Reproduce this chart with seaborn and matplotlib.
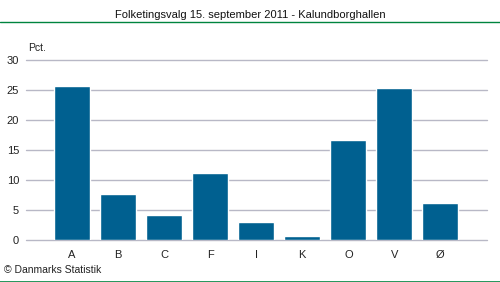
import matplotlib
matplotlib.use("Agg")
import matplotlib.pyplot as plt
import seaborn as sns
import pandas as pd
from matplotlib.lines import Line2D

categories = ["A", "B", "C", "F", "I", "K", "O", "V", "Ø"]
values = [25.7, 7.7, 4.2, 11.1, 3.0, 0.7, 16.7, 25.3, 6.2]
yticks = [0, 5, 10, 15, 20, 25, 30]
title = "Folketingsvalg 15. september 2011 - Kalundborghallen"

sns.set_theme(style="white")
plt.rcParams['font.family'] = ['Liberation Sans', 'DejaVu Sans']

W, H = 500, 282
fig = plt.figure(figsize=(W / 100, H / 100), dpi=100)
ax = fig.add_axes([26 / W, (H - 240) / H, (486.5 - 26) / W, 180 / H])

df = pd.DataFrame({"cat": categories, "val": values})
sns.barplot(data=df, x="cat", y="val", color="#006090", saturation=1,
            width=0.78, ax=ax, zorder=3)

ax.set_xlim(-1, 9)
ax.set_ylim(0, 30)
ax.set_yticks(yticks)
ax.set_yticklabels([str(t) for t in yticks], fontsize=8, color="#222222")
ax.tick_params(axis="x", labelsize=8, colors="#222222", length=0, pad=7)
ax.tick_params(axis="y", length=0, pad=5)
ax.set_xlabel("")
ax.set_ylabel("")
for s in ax.spines.values():
    s.set_visible(False)
ax.yaxis.grid(True, color="#b8b8c6", linewidth=1)
ax.set_axisbelow(True)
for gl in ax.get_ygridlines():
    gl.set_clip_on(False)

fig.text(250 / W, 1 - 15 / H, title, ha="center", va="center", fontsize=8, color="#111111")
fig.add_artist(Line2D([0, 1], [1 - 22 / H, 1 - 22 / H], transform=fig.transFigure, color="#00843f", linewidth=1))
fig.add_artist(Line2D([0, 1], [0.5 / H, 0.5 / H], transform=fig.transFigure, color="#00843f", linewidth=1.2))
fig.text(28 / W, 1 - 48 / H, "Pct.", ha="left", va="center", fontsize=7.5, color="#222222")
fig.text(4 / W, 1 - 270 / H, "© Danmarks Statistik", ha="left", va="center", fontsize=7.5, color="#222222")

fig.savefig("out.png", dpi=100)
